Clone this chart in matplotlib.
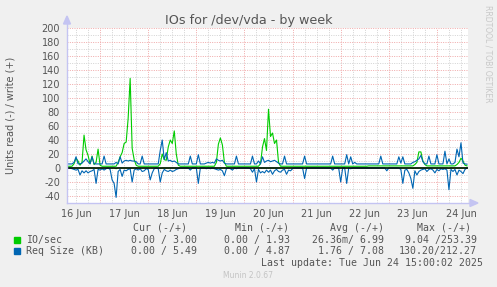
import numpy as np
import matplotlib
matplotlib.use('Agg')
import matplotlib.pyplot as plt
from matplotlib.patches import Polygon
from matplotlib.lines import Line2D

# ---------------- data (hourly samples, first sample 16 Jun 08:00) ----------------
start_hour = 8  # hours after 16 Jun 00:00
day_labels = ['16 Jun', '17 Jun', '18 Jun', '19 Jun', '20 Jun',
              '21 Jun', '22 Jun', '23 Jun', '24 Jun']

io_write = [
    2.5, 2.5, 2.5, 6, 14, 10, 4, 8, 47, 26, 18, 6, 17, 5, 8, 27, 4, 2.5, 2.5, 2.5,
    2.5, 2.5, 2.5, 2.5, 2.5, 8, 16, 22, 35, 37, 71, 128, 28, 12, 4, 2.5, 2.5, 2.5, 2.5, 2.5,
    2.5, 2.5, 2.5, 2.5, 2.5, 2.5, 6, 20, 12, 11, 30, 40, 35, 53, 20, 4, 2.5, 2.5, 2.5, 2.5,
    2.5, 2.5, 2.5, 2.5, 2.5, 2.5, 2.5, 2.5, 2.5, 2.5, 2.5, 2.5, 2.5, 2.5, 8, 34, 43, 33, 8, 2.5,
    2.5, 2.5, 2.5, 2.5, 2.5, 2.5, 2.5, 2.5, 2.5, 2.5, 2.5, 2.5, 2.5, 2.5, 2.5, 2.5, 6, 30, 42, 25,
    84, 45, 50, 35, 40, 8, 2.5, 2.5, 2.5, 2.5, 2.5, 2.5, 2.5, 2.5, 2.5, 2.5, 2.5, 2.5, 2.5, 2.5,
    2.5, 2.5, 2.5, 2.5, 2.5, 2.5, 2.5, 2.5, 2.5, 2.5, 2.5, 2.5, 2.5, 2.5, 2.5, 2.5, 2.5, 2.5, 2.5, 2.5,
    2.5, 2.5, 2.5, 2.5, 2.5, 2.5, 2.5, 2.5, 2.5, 2.5, 3, 3, 3, 3, 3, 3, 3, 3, 3, 3,
    3, 3, 3, 3, 3, 3, 3, 3, 3, 3, 3, 3, 3, 5, 8, 23, 23, 10, 5, 3,
    3, 3, 3, 3, 3, 3, 3, 3, 3, 3, 3, 3, 3, 3, 5, 8, 14, 10, 4, 3,
]
io_read = [
    0, 0, 0, 0, 0, 0, 0, 0, 0, 0, 0, 0, 0, 0, 0.5, 0, 0, 0, 0, 0,
    0, 0, 0, 0, 1, 0, 0, 0, 0, 0, 0, 0, 0, 0, 0, 0, 0, 0, 0, 0,
    0, 0, 0, 0, 0, 0, 0.5, 0, 0, 0, 0, 0, 0, 0, 0, 0, 0, 0, 0, 0,
    0, 0, 0, 0, 0, 0.5, 0, 0, 0, 0, 0, 0, 0, 0, 0, 0, 0, 0, 0, 0,
    0, 0, 0, 0, 0, 0, 0, 0, 0, 0, 0, 0, 0, 0, 0, 0, 0, 0, 0, 0,
    0, 0, 0, 0, 0, 0, 0, 0, 0, 0, 0, 0, 0, 0, 0, 0, 0, 0, 0, 0,
    0, 0, 0, 0, 0, 0, 0, 0, 0, 0, 0, 0, 0, 0, 0, 0, 0, 0, 0, 0,
    0, 0, 0, 0, 0, 0, 0, 0, 0, 0, 0, 0, 0, 0, 0, 0, 0, 0, 0, 0,
    0, 0, 0, 0, 0, 0, 0, 0, 0, 0, 0, 0, 0.5, 0, 0, 0, 0, 0, 0, 0,
    0, 0, 0, 0, 0, 0, 0, 0, 0, 0, 0.5, 0, 0, 0, 0, 0, 0, 0, 0, 0,
]
req_write = [
    5.8, 5.8, 5.8, 8, 16, 6, 5.8, 7, 10, 13, 9, 6, 16, 6, 5.8, 5.8, 5.8, 5.8, 17, 5.8,
    5.8, 5.8, 5.8, 5.8, 8, 5.8, 16, 7, 10, 11, 10, 11, 10, 10, 9, 5.8, 5.8, 17, 5.8, 5.8,
    5.8, 5.8, 5.8, 5.8, 5.8, 5.8, 25, 40, 12, 22, 10, 11, 9, 10, 8, 5.8, 5.8, 5.8, 5.8, 5.8,
    5.8, 17, 5.8, 5.8, 5.8, 19, 5.8, 5.8, 5.8, 7, 8, 7, 8, 7, 13, 11, 10, 11, 7, 5.8,
    5.8, 5.8, 5.8, 5.8, 17, 5.8, 5.8, 5.8, 5.8, 5.8, 5.8, 5.8, 17, 5.8, 5.8, 10, 5.8, 16, 8, 10,
    11, 9, 10, 11, 9, 7, 5.8, 5.8, 17, 5.8, 5.8, 5.8, 5.8, 5.8, 5.8, 5.8, 5.8, 5.8, 17, 5.8,
    5.8, 5.8, 5.8, 5.8, 5.8, 5.8, 5.8, 5.8, 5.8, 5.8, 5.8, 5.8, 17, 5.8, 5.8, 5.8, 5.8, 5.8, 5.8, 19,
    5.8, 16, 5.8, 8, 5.8, 5.8, 5.8, 5.8, 5.8, 5.8, 5.8, 5.8, 5.8, 5.8, 5.8, 5.8, 17, 5.8, 5.8, 5.8,
    5.8, 5.8, 5.8, 5.8, 5.8, 16, 7, 16, 5.8, 5.8, 5.8, 5.8, 8, 9, 11, 13, 18, 9, 5.8, 5.8,
    17, 5.8, 5.8, 5.8, 19, 5.8, 5.8, 5.8, 24, 5.8, 13, 5.8, 5.8, 8, 27, 16, 36, 7, 5.8, 5.5,
]
req_read = [
    0, 0, 1, 2, 3, 2, 10, 4, 7, 4, 7, 5, 4, 2, 22, 2, 3, 1, 3, 1,
    0, 2, 17, 22, 42, 5, 2, 12, 3, 4, 2, 1, 20, 3, 1, 3, 1, 5, 4, 1,
    2, 17, 7, 1, 0, 1, 20, 7, 2, 4, 5, 3, 5, 4, 2, 1, 0, 0, 0, 0,
    0, 3, 0, 0, 0, 22, 0, 0, 0, 1, 0, 1, 0, 1, 2, 3, 2, 4, 11, 1,
    0, 1, 3, 0, 1, 0, 0, 0, 0, 0, 0, 1, 6, 1, 20, 2, 7, 5, 7, 3,
    6, 3, 9, 4, 2, 5, 6, 3, 2, 9, 3, 4, 1, 0, 0, 0, 0, 0, 15, 0,
    0, 0, 0, 0, 0, 0, 0, 0, 0, 0, 0, 0, 3, 0, 0, 0, 20, 0, 0, 22,
    0, 1, 0, 0, 0, 0, 0, 0, 0, 0, 0, 0, 0, 0, 0, 0, 0, 0, 0, 4,
    0, 0, 0, 0, 0, 0, 2, 22, 3, 2, 7, 15, 29, 4, 10, 5, 3, 2, 1, 5,
    2, 1, 3, 7, 2, 4, 1, 2, 1, 3, 31, 2, 5, 2, 10, 3, 5, 8, 2, 0,
]

legend_names = ['IO/sec', 'Req Size (KB)']
legend_colors = ['#00CC00', '#0066B3']
col_headers = ['Cur (-/+)', 'Min (-/+)', 'Avg (-/+)', 'Max (-/+)']
col_cur = ['0.00 / 3.00', '0.00 / 5.49']
col_min = ['0.00 / 1.93', '0.00 / 4.87']
col_avg = ['26.36m/ 6.99', '1.76 / 7.08']
col_max = ['9.04 /253.39', '130.20/212.27']
y_ticks = [-40, -20, 0, 20, 40, 60, 80, 100, 120, 140, 160, 180, 200]

# ---------------- figure ----------------
W, H = 497, 287
fig = plt.figure(figsize=(W / 100, H / 100), dpi=100, facecolor='#F0F0F0')

def fx(px):
    return px / W

def fy(py):
    return 1 - py / H

L, R, T, B = 67, 468, 28, 203
ax = fig.add_axes([fx(L), fy(B), (R - L) / W, (B - T) / H])
ax.set_facecolor('white')

hours = start_hour + np.arange(len(io_write))
t0, t1 = 7.5, 207.5
ax.set_xlim(t0, t1)
ax.set_ylim(-50, 200)

# grid
minor_c = '#D2D2D2'
major_c = '#F0A8A8'
dot = (0, (1, 1.4))
for h in np.arange(6, 210, 6):
    if t0 < h < t1:
        ax.axvline(h, color=major_c if h % 24 == 0 else minor_c, lw=0.7,
                   ls=dot, zorder=0)
for v in np.arange(-50, 201, 10):
    ax.axhline(v, color=major_c if v % 20 == 0 else minor_c, lw=0.7,
               ls=dot, zorder=0)

# series
lw = 0.8
ax.plot(hours, -np.asarray(io_read), color='#00CC00', lw=lw, zorder=2)
ax.plot(hours, io_write, color='#00CC00', lw=lw, zorder=2)
ax.plot(hours, -np.asarray(req_read), color='#0066B3', lw=lw, zorder=3)
ax.plot(hours, req_write, color='#0066B3', lw=lw, zorder=3)
ax.axhline(0, color='black', lw=1.1, zorder=4)

# ticks
txt_c = '#555555'
ax.set_yticks(y_ticks)
ax.set_yticklabels([str(v) for v in y_ticks])
ax.set_xticks([12 + 24 * k for k in range(len(day_labels))])
ax.set_xticklabels(day_labels)
ax.tick_params(axis='y', length=0, pad=5.0, labelsize=7, labelcolor=txt_c)
ax.tick_params(axis='x', length=0, pad=4.0, labelsize=7, labelcolor=txt_c)
for s in ax.spines.values():
    s.set_visible(False)

# axes lines with arrows (rrdtool style)
axis_c = '#C4C4F2'
fig.add_artist(Line2D([fx(L), fx(L)], [fy(B), fy(22)], color=axis_c, lw=1.0))
fig.add_artist(Line2D([fx(L), fx(472)], [fy(B), fy(B)], color=axis_c, lw=1.0))
fig.add_artist(Polygon([[fx(L - 3.5), fy(24)], [fx(L + 3.5), fy(24)], [fx(L), fy(16)]],
                       closed=True, color=axis_c, transform=fig.transFigure))
fig.add_artist(Polygon([[fx(470), fy(B - 3.5)], [fx(470), fy(B + 3.5)], [fx(478), fy(B)]],
                       closed=True, color=axis_c, transform=fig.transFigure))

# titles
fig.text(fx(248.5), fy(24), 'IOs for /dev/vda - by week', ha='center', va='baseline',
         fontsize=9.2, color=txt_c)
fig.text(fx(11), fy(115.5), 'Units read (-) / write (+)', rotation=90, ha='center',
         va='center', fontsize=7, color=txt_c)
fig.text(fx(488), fy(5), 'RRDTOOL / TOBI OETIKER', rotation=270, ha='center', va='top',
         fontsize=5.5, color='#C8C8C8')

# legend
mono = 'DejaVu Sans Mono'
ms = 7.1
hdr_right = [187, 289, 384, 471]
val_right = [197, 290, 384, 477]
for hx, htxt in zip(hdr_right, col_headers):
    fig.text(fx(hx), fy(228), htxt, ha='right', va='center', family=mono, fontsize=ms,
             color=txt_c)
row_y = [239.5, 251]
for k in range(2):
    y = row_y[k]
    fig.add_artist(plt.Rectangle((fx(14), fy(y + 3)), 6 / W, 6 / H, color=legend_colors[k],
                                 transform=fig.transFigure))
    fig.text(fx(26), fy(y), legend_names[k], ha='left', va='center', family=mono,
             fontsize=ms, color=txt_c)
    for vx, col in zip(val_right, [col_cur, col_min, col_avg, col_max]):
        fig.text(fx(vx), fy(y), col[k], ha='right', va='center', family=mono,
                 fontsize=ms, color=txt_c)

fig.text(fx(483), fy(263.5), 'Last update: Tue Jun 24 15:00:02 2025', ha='right',
         va='center', family=mono, fontsize=ms, color=txt_c)
fig.text(fx(248), fy(276), 'Munin 2.0.67', ha='center', va='center', fontsize=5.5,
         color='#C4C4C4')

fig.savefig('out.png', dpi=100, facecolor=fig.get_facecolor())
